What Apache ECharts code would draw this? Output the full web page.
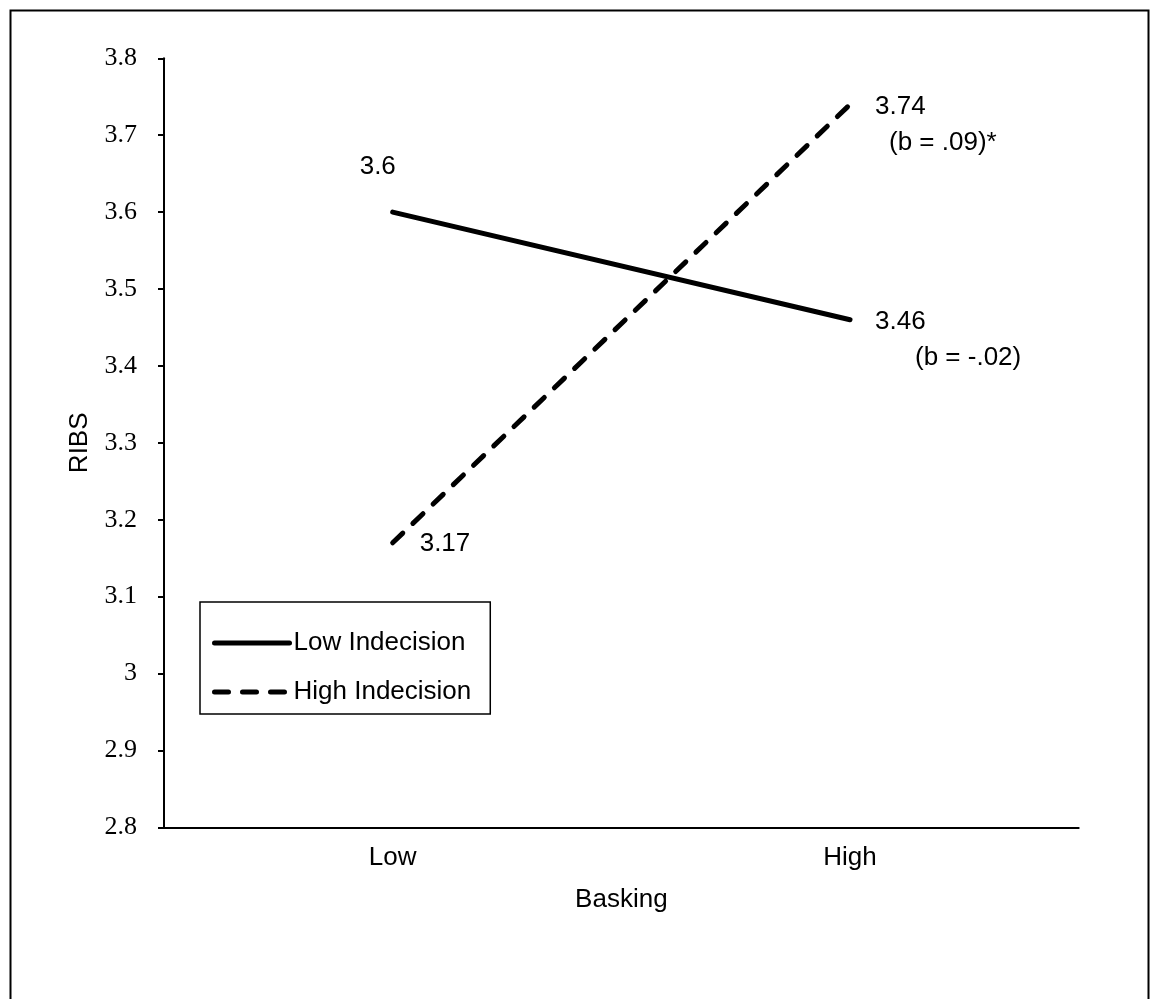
<!DOCTYPE html>
<html>
<head>
<meta charset="utf-8">
<script src="https://cdn.jsdelivr.net/npm/echarts@6/dist/echarts.min.js"></script>
<style>
html,body{margin:0;padding:0;background:#fff;}
#chart{width:1155px;height:999px;}
</style>
</head>
<body>
<div id="chart"></div>
<script>
var categories = ['Low', 'High'];
var lowIndecision = [3.6, 3.46];
var highIndecision = [3.17, 3.74];
var seriesNames = ['Low Indecision', 'High Indecision'];
var yTickLabels = ['2.8', '2.9', '3', '3.1', '3.2', '3.3', '3.4', '3.5', '3.6', '3.7', '3.8'];
var slopeNotes = ['(b = -.02)', '(b = .09)*'];

var chart = echarts.init(document.getElementById('chart'));
var sans = 'Liberation Sans, Arial, sans-serif';
var serif = 'Liberation Serif, Times New Roman, serif';

function pointLabel(text, note, dx, dy, notePad) {
  var fmt = note ? '{a|' + text + '}\n{b|' + note + '}' : '{a|' + text + '}';
  return {
    show: true,
    position: 'inside',
    align: 'left',
    verticalAlign: 'middle',
    offset: [dx, dy],
    formatter: fmt,
    color: '#000',
    fontFamily: sans,
    fontSize: 26,
    rich: {
      a: {fontFamily: sans, fontSize: 26, color: '#000', lineHeight: 36},
      b: {fontFamily: sans, fontSize: 26, color: '#000', lineHeight: 36, padding: [0, 0, 0, notePad || 0]}
    }
  };
}

var option = {
  animation: false,
  backgroundColor: '#fff',
  graphic: [{
    type: 'rect',
    left: 8, top: 8,
    shape: {width: 1138, height: 1010},
    style: {fill: 'none', stroke: '#000', lineWidth: 2},
    silent: true
  }],
  grid: {left: 164, top: 58.3, right: 76.3, bottom: 171.7, containLabel: false},
  legend: {
    orient: 'vertical',
    left: 200, top: 602,
    data: seriesNames,
    itemWidth: 75,
    itemHeight: 20,
    itemGap: 23,
    padding: [28, 19, 9, 12],
    borderColor: '#000',
    borderWidth: 1.5,
    backgroundColor: '#fff',
    itemStyle: {color: 'rgba(0,0,0,0)', borderWidth: 0, opacity: 0},
    lineStyle: {width: 5, cap: 'round', color: '#000'},
    textStyle: {fontFamily: sans, fontSize: 26, color: '#000', padding: [0, 0, 0, -1]}
  },
  xAxis: {
    type: 'category',
    data: categories,
    boundaryGap: true,
    name: 'Basking',
    nameLocation: 'middle',
    nameGap: 60,
    nameTextStyle: {fontFamily: sans, fontSize: 26, color: '#000'},
    axisLine: {lineStyle: {color: '#000', width: 2}},
    axisTick: {show: false},
    axisLabel: {fontFamily: sans, fontSize: 26, color: '#000', margin: 18}
  },
  yAxis: {
    type: 'value',
    min: 2.8, max: 3.8, interval: 0.1,
    name: 'RIBS',
    nameLocation: 'middle',
    nameGap: 71,
    nameRotate: 90,
    nameTextStyle: {fontFamily: sans, fontSize: 26, color: '#000'},
    axisLine: {show: true, lineStyle: {color: '#000', width: 2}},
    axisTick: {show: true, length: 6, lineStyle: {color: '#000', width: 2}},
    splitLine: {show: false},
    axisLabel: {
      fontFamily: serif, fontSize: 26, color: '#000', margin: 27,
      formatter: function (v) {
        var idx = Math.round((v - 2.8) / 0.1);
        return yTickLabels[idx] !== undefined ? yTickLabels[idx] : '';
      }
    }
  },
  series: [{
    name: seriesNames[0],
    type: 'line',
    data: lowIndecision,
    symbol: 'none',
    lineStyle: {color: '#000', width: 5, cap: 'round'},
    itemStyle: {color: '#000'},
    markPoint: {
      symbol: 'circle', symbolSize: 1,
      itemStyle: {color: 'rgba(0,0,0,0)'},
      data: [
        {coord: [0, lowIndecision[0]], label: pointLabel(String(lowIndecision[0]), null, -33, -45)},
        {coord: [1, lowIndecision[1]], label: pointLabel(String(lowIndecision[1]), slopeNotes[0], 25, 20, 40)}
      ]
    }
  }, {
    name: seriesNames[1],
    type: 'line',
    data: highIndecision,
    symbol: 'none',
    lineStyle: {color: '#000', width: 5, type: [14, 14], cap: 'round'},
    itemStyle: {color: '#000'},
    markPoint: {
      symbol: 'circle', symbolSize: 1,
      itemStyle: {color: 'rgba(0,0,0,0)'},
      data: [
        {coord: [0, highIndecision[0]], label: pointLabel(String(highIndecision[0]), null, 27, 1)},
        {coord: [1, highIndecision[1]], label: pointLabel(String(highIndecision[1]), slopeNotes[1], 25, 20, 14)}
      ]
    }
  }]
};
chart.setOption(option);
</script>
</body>
</html>
